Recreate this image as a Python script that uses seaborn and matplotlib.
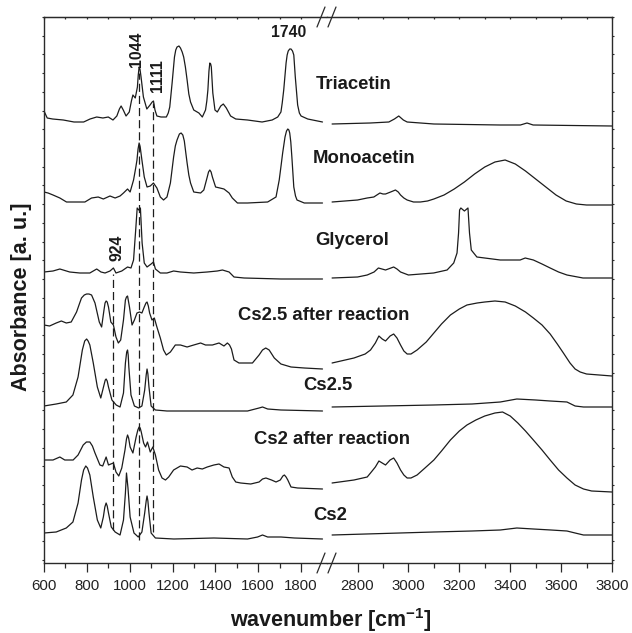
import numpy as np
import pandas as pd
import matplotlib
matplotlib.use("Agg")
import matplotlib.pyplot as plt
from matplotlib.lines import Line2D
from matplotlib.ticker import FixedLocator, NullFormatter
import seaborn as sns

sns.set_style("ticks")
plt.rcParams["font.family"] = ["Liberation Sans", "DejaVu Sans"]
plt.rcParams["mathtext.fontset"] = "custom"
plt.rcParams["mathtext.rm"] = "Liberation Sans"
plt.rcParams["mathtext.bf"] = "Liberation Sans:bold"

# ---------------- data (wavenumber, absorbance a.u.) ----------------
SAMPLES = ["Triacetin", "Monoacetin", "Glycerol", "Cs2.5 after reaction",
           "Cs2.5", "Cs2 after reaction", "Cs2"]

TRIACETIN_LOW = [(600, 452), (615, 445), (640, 444), (690, 443), (740, 441), (785, 441), (815, 444),
                 (846, 446), (875, 445), (900, 446), (922, 443), (940, 447), (952, 454), (960, 457),
                 (970, 453), (983, 447), (998, 451), (1008, 462), (1015, 468), (1026, 465), (1036, 476),
                 (1040, 488), (1044, 496), (1048, 494), (1053, 486), (1064, 466), (1080, 454), (1095, 458),
                 (1105, 461), (1111, 462), (1118, 453), (1127, 447), (1146, 446), (1171, 446), (1180, 450),
                 (1187, 456), (1198, 480), (1209, 506), (1215, 513), (1221, 516), (1230, 517), (1237, 515),
                 (1245, 511), (1252, 506), (1260, 496), (1268, 483), (1276, 469), (1284, 461), (1299, 453),
                 (1323, 450), (1339, 446), (1354, 453), (1360, 462), (1365, 473), (1370, 492), (1374, 500),
                 (1378, 499), (1381, 496), (1388, 470), (1398, 453), (1409, 451), (1425, 457), (1437, 459),
                 (1451, 455), (1471, 447), (1495, 444), (1550, 443), (1618, 441), (1665, 443), (1691, 446),
                 (1706, 451), (1712, 460), (1719, 473), (1730, 500), (1735, 508), (1740, 512), (1747, 514),
                 (1753, 514), (1760, 512), (1766, 508), (1773, 486), (1784, 458), (1792, 450), (1800, 447),
                 (1831, 444), (1900, 441)]
TRIACETIN_HIGH = [(2700, 439), (2850, 440), (2923, 441), (2945, 444), (2962, 447), (2980, 443),
                  (2995, 441), (3100, 439), (3360, 438), (3440, 438), (3466, 440), (3490, 438), (3800, 437)]

MONOACETIN_LOW = [(600, 371), (619, 370), (642, 368), (674, 365), (705, 361), (752, 361), (791, 361),
                  (822, 365), (853, 366), (877, 364), (908, 367), (932, 365), (955, 367), (971, 370),
                  (990, 374), (1002, 371), (1018, 383), (1028, 395), (1034, 403), (1039, 414), (1044, 420),
                  (1049, 416), (1057, 403), (1068, 386), (1081, 376), (1096, 377), (1111, 380), (1127, 375),
                  (1143, 366), (1158, 363), (1174, 366), (1190, 380), (1205, 406), (1213, 417), (1221, 423),
                  (1232, 429), (1240, 430), (1248, 428), (1255, 422), (1262, 410), (1268, 400), (1276, 388),
                  (1284, 380), (1299, 371), (1331, 370), (1346, 373), (1362, 386), (1368, 391), (1374, 393),
                  (1380, 391), (1386, 386), (1401, 376), (1421, 375), (1440, 374), (1464, 370), (1479, 365),
                  (1503, 360), (1550, 360), (1644, 361), (1683, 366), (1698, 383), (1707, 398), (1714, 410),
                  (1725, 426), (1732, 432), (1738, 434), (1743, 433), (1747, 430), (1752, 421), (1757, 406),
                  (1766, 376), (1774, 367), (1781, 363), (1815, 360), (1900, 360)]
MONOACETIN_HIGH = [(2700, 361), (2800, 363), (2838, 365), (2864, 366), (2888, 370), (2900, 369),
                   (2910, 369), (2930, 371), (2949, 373), (2960, 371), (2969, 368), (2982, 365),
                   (2995, 363), (3020, 361), (3047, 361), (3075, 362), (3100, 364), (3140, 368),
                   (3180, 374), (3220, 381), (3260, 389), (3300, 396), (3340, 401), (3380, 403),
                   (3420, 399), (3460, 392), (3500, 384), (3540, 376), (3580, 368), (3620, 362),
                   (3660, 359), (3700, 358), (3800, 358)]

GLYCEROL_LOW = [(600, 291), (642, 292), (674, 294), (720, 291), (767, 290), (814, 290), (846, 294),
                (866, 291), (885, 290), (908, 292), (924, 295), (936, 290), (963, 292), (990, 296),
                (1006, 295), (1018, 303), (1028, 333), (1035, 355), (1042, 353), (1050, 355), (1058, 320),
                (1068, 300), (1081, 296), (1100, 299), (1111, 301), (1120, 294), (1143, 290), (1174, 290),
                (1205, 292), (1237, 291), (1299, 290), (1362, 291), (1409, 292), (1433, 293), (1464, 291),
                (1487, 286), (1534, 285), (1706, 284), (1900, 284)]
GLYCEROL_HIGH = [(2700, 285), (2800, 286), (2838, 288), (2865, 291), (2882, 295), (2910, 293),
                 (2942, 296), (2955, 294), (2969, 291), (3000, 288), (3099, 290), (3152, 293),
                 (3178, 300), (3191, 310), (3197, 330), (3201, 353), (3206, 355), (3220, 352),
                 (3234, 355), (3240, 330), (3247, 313), (3269, 306), (3361, 303), (3439, 303),
                 (3459, 305), (3491, 303), (3525, 299), (3557, 295), (3590, 291), (3623, 288),
                 (3686, 285), (3800, 285)]

CS25_AFTER_LOW = [(600, 238), (626, 237), (657, 240), (681, 242), (704, 240), (727, 241), (752, 251),
                  (765, 259), (775, 265), (788, 268), (799, 269), (810, 269), (822, 268), (838, 260),
                  (858, 241), (869, 236), (880, 253), (885, 260), (890, 262), (895, 261), (901, 256),
                  (912, 241), (924, 238), (936, 226), (947, 220), (958, 223), (971, 243), (980, 263),
                  (985, 266), (990, 267), (999, 256), (1011, 238), (1022, 243), (1034, 250), (1046, 251),
                  (1057, 250), (1068, 256), (1076, 260), (1081, 261), (1087, 257), (1093, 250), (1104, 243),
                  (1115, 245), (1127, 236), (1143, 225), (1158, 213), (1171, 208), (1190, 211), (1213, 218),
                  (1237, 218), (1268, 216), (1299, 218), (1331, 220), (1354, 218), (1386, 218), (1417, 220),
                  (1440, 217), (1456, 220), (1466, 218), (1475, 214), (1487, 203), (1510, 200), (1550, 200),
                  (1573, 200), (1604, 208), (1620, 213), (1635, 215), (1651, 213), (1675, 205), (1706, 199),
                  (1753, 196), (1815, 195), (1900, 194)]
CS25_AFTER_HIGH = [(2700, 200), (2786, 205), (2830, 209), (2851, 213), (2870, 220), (2884, 227),
                   (2897, 224), (2910, 222), (2928, 227), (2942, 229), (2955, 225), (2969, 218),
                   (2982, 212), (2995, 209), (3010, 209), (3034, 213), (3070, 221), (3100, 230),
                   (3130, 239), (3165, 248), (3200, 254), (3230, 258), (3270, 260), (3300, 261),
                   (3340, 262), (3380, 261), (3420, 257), (3460, 251), (3491, 245), (3525, 238),
                   (3557, 229), (3585, 219), (3609, 210), (3635, 200), (3655, 194), (3675, 191),
                   (3700, 189), (3800, 187)]

CS25_LOW = [(600, 157), (657, 159), (704, 161), (735, 168), (759, 186), (779, 213), (790, 222),
            (799, 224), (806, 222), (814, 218), (830, 200), (849, 176), (865, 165), (880, 178),
            (886, 183), (890, 184), (895, 182), (901, 176), (917, 163), (937, 158), (955, 156),
            (971, 170), (980, 200), (986, 211), (990, 213), (993, 208), (996, 196), (1006, 168),
            (1022, 157), (1042, 155), (1057, 157), (1070, 173), (1077, 188), (1081, 194), (1085, 189),
            (1090, 176), (1100, 157), (1120, 153), (1174, 152), (1252, 152), (1393, 152), (1550, 152),
            (1604, 155), (1620, 156), (1644, 154), (1706, 153), (1900, 152)]
CS25_HIGH = [(2700, 156), (3099, 158), (3250, 159), (3361, 161), (3426, 164), (3500, 163),
             (3557, 162), (3623, 161), (3655, 157), (3688, 156), (3800, 156)]

CS2_AFTER_LOW = [(600, 103), (642, 103), (674, 106), (697, 103), (736, 103), (759, 108), (783, 118),
                 (798, 121), (814, 121), (826, 117), (838, 110), (861, 98), (874, 97), (890, 106),
                 (901, 98), (912, 99), (924, 100), (936, 91), (949, 87), (963, 95), (978, 113),
                 (985, 124), (990, 128), (995, 125), (1002, 116), (1015, 110), (1030, 126), (1038, 133),
                 (1044, 136), (1049, 135), (1054, 131), (1065, 120), (1074, 116), (1083, 121), (1096, 111),
                 (1108, 116), (1120, 108), (1135, 93), (1151, 85), (1167, 83), (1182, 86), (1205, 93),
                 (1237, 97), (1268, 96), (1291, 93), (1315, 95), (1339, 94), (1362, 96), (1393, 98),
                 (1417, 99), (1440, 96), (1464, 95), (1479, 86), (1495, 81), (1518, 80), (1565, 79),
                 (1604, 81), (1620, 84), (1636, 85), (1662, 83), (1683, 81), (1703, 83), (1715, 87),
                 (1722, 88), (1730, 86), (1738, 83), (1753, 76), (1784, 75), (1900, 74)]
CS2_AFTER_HIGH = [(2700, 80), (2786, 83), (2838, 86), (2851, 90), (2870, 96), (2884, 102), (2897, 100),
                  (2910, 98), (2928, 103), (2942, 105), (2955, 100), (2969, 93), (2982, 88), (2995, 85),
                  (3010, 85), (3034, 88), (3065, 95), (3100, 103), (3130, 112), (3165, 123), (3200, 132),
                  (3230, 138), (3265, 143), (3300, 147), (3340, 150), (3370, 151), (3400, 147),
                  (3430, 140), (3460, 132), (3491, 123), (3525, 113), (3557, 103), (3590, 93),
                  (3623, 85), (3655, 78), (3688, 74), (3720, 72), (3800, 71)]

CS2_LOW = [(600, 30), (657, 31), (704, 35), (735, 41), (759, 60), (775, 83), (785, 93), (795, 97),
           (803, 95), (814, 88), (830, 66), (849, 43), (865, 35), (877, 46), (884, 56), (890, 60),
           (895, 57), (901, 50), (914, 36), (932, 31), (955, 28), (971, 43), (980, 70), (985, 90),
           (992, 75), (1002, 46), (1020, 30), (1040, 26), (1057, 31), (1070, 50), (1077, 62), (1081, 67),
           (1085, 62), (1090, 50), (1100, 30), (1120, 25), (1206, 24), (1393, 25), (1550, 24), (1597, 26),
           (1620, 28), (1644, 26), (1706, 26), (1769, 25), (1900, 24)]
CS2_HIGH = [(2700, 28), (3099, 31), (3250, 32), (3361, 33), (3426, 35), (3491, 34), (3560, 33),
            (3623, 32), (3655, 30), (3688, 28), (3800, 28)]

LOW_SEGMENTS = [TRIACETIN_LOW, MONOACETIN_LOW, GLYCEROL_LOW, CS25_AFTER_LOW, CS25_LOW, CS2_AFTER_LOW, CS2_LOW]
HIGH_SEGMENTS = [TRIACETIN_HIGH, MONOACETIN_HIGH, GLYCEROL_HIGH, CS25_AFTER_HIGH, CS25_HIGH, CS2_AFTER_HIGH, CS2_HIGH]

MARKED_BANDS = [924, 1044, 1111]
MARKED_LOW = [33, 23, 31]
MARKED_HIGH = [289, 490, 460]

LOW_MAJOR = [600, 800, 1000, 1200, 1400, 1600, 1800]
HIGH_MAJOR = [2800, 3000, 3200, 3400, 3600, 3800]

# ---------------- tidy table ----------------
rows = []
for name, lo, hi in zip(SAMPLES, LOW_SEGMENTS, HIGH_SEGMENTS):
    for seg, pts in (("low", lo), ("high", hi)):
        for wn, a in pts:
            rows.append({"sample": name, "segment": seg, "wavenumber": wn, "absorbance": a})
df = pd.DataFrame(rows)

# ---------------- figure ----------------
W, H = 632, 633
fig = plt.figure(figsize=(W / 100, H / 100), dpi=100)


def fx(px):
    return px / W


def fy(py):
    return 1 - py / H


L, R, T, B, BRK = 44, 612, 17, 563, 327
ax1 = fig.add_axes([fx(L), fy(B), fx(BRK) - fx(L), fy(T) - fy(B)])
ax2 = fig.add_axes([fx(BRK), fy(B), fx(R) - fx(BRK), fy(T) - fy(B)])

LINE_COL = "#1c1c1c"
SPINE_COL = "#2a2a2a"
for ax, seg in ((ax1, "low"), (ax2, "high")):
    sub = df[df["segment"] == seg]
    sns.lineplot(data=sub, x="wavenumber", y="absorbance", units="sample", estimator=None,
                 sort=False, color=LINE_COL, lw=0.9, ax=ax, legend=False)
    for ln in ax.get_lines():
        ln.set_solid_joinstyle("round")
    ax.set_ylim(0, 546)
    ax.set_xlabel("")
    ax.set_ylabel("")
    for s in ax.spines.values():
        s.set_color(SPINE_COL)
        s.set_linewidth(1.0)

ax1.set_xlim(600, 1921)
ax2.set_xlim(2680, 3800)

ax1.vlines(MARKED_BANDS, MARKED_LOW, MARKED_HIGH, colors=LINE_COL, lw=0.9,
           linestyles=(0, (6.5, 3.2)))

ax1.spines["right"].set_visible(False)
ax2.spines["left"].set_visible(False)

ax1.xaxis.set_major_locator(FixedLocator(LOW_MAJOR))
ax1.xaxis.set_minor_locator(FixedLocator([w + 100 for w in LOW_MAJOR[:-1]]))
ax2.xaxis.set_major_locator(FixedLocator(HIGH_MAJOR))
ax2.xaxis.set_minor_locator(FixedLocator([w + 100 for w in HIGH_MAJOR[:-1]]))

yt = np.arange(546, 0, -18.72)
for ax in (ax1, ax2):
    ax.set_xticklabels([str(v) for v in ax.get_xticks()])
    ax.tick_params(axis="x", which="major", direction="out", length=6.5, width=0.9,
                   color=SPINE_COL, labelsize=10.8, pad=5, labelcolor="#222222")
    ax.tick_params(axis="x", which="minor", direction="out", length=3.6, width=0.9, color=SPINE_COL)
    ax.yaxis.set_major_locator(FixedLocator(yt))
    ax.yaxis.set_major_formatter(NullFormatter())
    sec = ax.secondary_xaxis("top")
    sec.xaxis.set_major_locator(FixedLocator(list(ax.xaxis.get_major_locator().locs) +
                                             list(ax.xaxis.get_minor_locator().locs)))
    sec.xaxis.set_major_formatter(NullFormatter())
    sec.tick_params(axis="x", direction="in", length=1.6, width=0.9, color=SPINE_COL)
    sec.spines["top"].set_color(SPINE_COL)

ax1.tick_params(axis="y", left=True, right=False, direction="out", length=1.6, width=0.8, color=SPINE_COL)
ax2.tick_params(axis="y", left=False, right=True, direction="out", length=1.6, width=0.8, color=SPINE_COL,
                labelleft=False, labelright=False)

# break marks
for yb in (T, B):
    for x0 in (317, 328):
        fig.add_artist(Line2D([fx(x0), fx(x0 + 8)], [fy(yb + 10), fy(yb - 10)],
                              color=SPINE_COL, lw=0.9))

# texts
bold = dict(weight="bold", color="#1a1a1a")
SAMPLE_POS = [(354, 89), (364, 163), (352.5, 245), (324, 320.5), (327.5, 390), (332, 444), (330, 520)]
for name, (px, py) in zip(SAMPLES, SAMPLE_POS):
    fig.text(fx(px), fy(py), name, ha="center", va="baseline", fontsize=13.3, **bold)

fig.text(fx(289), fy(37.3), "1740", ha="center", va="baseline", fontsize=11.3, **bold)
for lab, (px, py) in zip(["1044", "1111", "924"], [(137, 49), (157.5, 76), (117.5, 247.5)]):
    fig.text(fx(px), fy(py), lab, ha="center", va="center", rotation=90, fontsize=11.3, **bold)

fig.text(fx(22), fy(297), "Absorbance [a. u.]", ha="center", va="center", rotation=90,
         fontsize=15.5, **bold)
fig.text(fx(331), fy(627), r"wavenumber [cm$^{\mathbf{-1}}$]", ha="center", va="baseline",
         fontsize=15.5, **bold)

fig.savefig("out.png", dpi=100)
